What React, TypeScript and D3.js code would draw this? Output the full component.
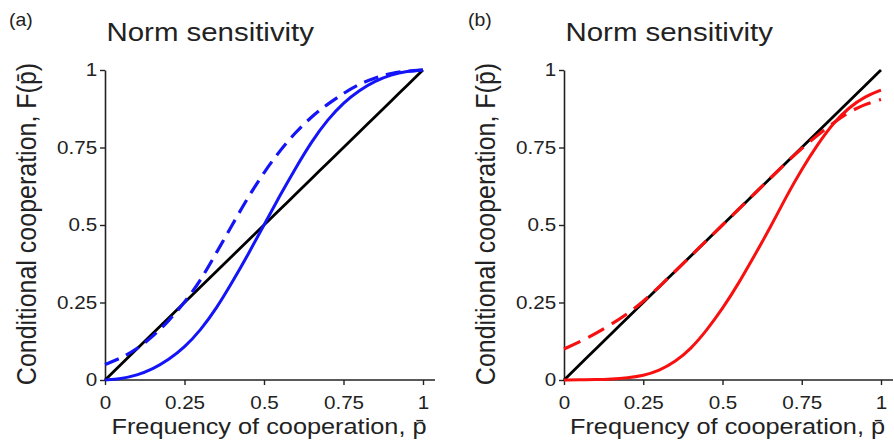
import React, { useRef, useEffect } from "react";
import * as d3 from "d3";

// x grid shared by all curves
const pGrid = [0, 0.05, 0.1, 0.15, 0.2, 0.25, 0.3, 0.35, 0.4, 0.45, 0.5, 0.55, 0.6, 0.65, 0.7, 0.75, 0.8, 0.85, 0.9, 0.95, 1];

// panel (a)
const blueSolid = [0, 0.004, 0.015, 0.035, 0.065, 0.105, 0.16, 0.23, 0.315, 0.405, 0.5, 0.595, 0.685, 0.77, 0.84, 0.895, 0.935, 0.965, 0.985, 0.996, 1];
const blueDashed = [0.05, 0.07, 0.1, 0.14, 0.19, 0.25, 0.32, 0.41, 0.5, 0.59, 0.67, 0.74, 0.8, 0.85, 0.89, 0.925, 0.955, 0.975, 0.99, 0.997, 1];

// panel (b)
const redSolid = [0, 0.0005, 0.001, 0.003, 0.007, 0.014, 0.03, 0.058, 0.1, 0.16, 0.23, 0.31, 0.4, 0.49, 0.59, 0.68, 0.76, 0.83, 0.88, 0.915, 0.935];
const redDashed = [0.1, 0.123, 0.15, 0.18, 0.213, 0.253, 0.3, 0.35, 0.4, 0.45, 0.5, 0.55, 0.6, 0.65, 0.7, 0.748, 0.79, 0.83, 0.865, 0.89, 0.905];

const tickVals = [0, 0.25, 0.5, 0.75, 1];
const tickLabels = ["0", "0.25", "0.5", "0.75", "1"];

const FONT = "'Liberation Sans', Arial, Helvetica, sans-serif";
const SX = 1.11; // the figure's lettering is a little wide

const panels = [
  { tag: "(a)", left: 105, right: 423, color: "#1414f8", solid: blueSolid, dashed: blueDashed, dash: "15,8" },
  { tag: "(b)", left: 564, right: 881, color: "#f81010", solid: redSolid, dashed: redDashed, dash: "18,9" },
];

const TOP = 70;
const BOTTOM = 380;

const App = () => {
  const chart = useRef<SVGSVGElement>(null);

  useEffect(() => {
    const svg = d3.select(chart.current);
    svg.selectAll("*").remove();

    panels.forEach((pn) => {
      const x = d3.scaleLinear().domain([0, 1]).range([pn.left, pn.right]);
      const y = d3.scaleLinear().domain([0, 1]).range([BOTTOM, TOP]);
      const g = svg.append("g");

      // panel tag and title
      g.append("text")
        .attr("transform", `translate(${pn.left - 96},26) scale(${SX},1)`)
        .attr("font-size", 17.5)
        .text(pn.tag);
      g.append("text")
        .attr("transform", `translate(${pn.left + 1.5},40.7) scale(${SX},1)`)
        .attr("font-size", 26.5)
        .text("Norm sensitivity");

      // axes
      const xAxis = g.append("g")
        .attr("transform", `translate(0,${BOTTOM})`)
        .call(d3.axisBottom(x).tickValues(tickVals).tickFormat((d, i) => tickLabels[i]).tickSize(5).tickSizeOuter(0).tickPadding(11));
      xAxis.select(".domain").remove();
      xAxis.append("line")
        .attr("x1", pn.left).attr("x2", pn.right + 12)
        .attr("stroke", "#222").attr("stroke-width", 1.6);

      const yAxis = g.append("g")
        .attr("transform", `translate(${pn.left},0)`)
        .call(d3.axisLeft(y).tickValues(tickVals).tickFormat((d, i) => tickLabels[i]).tickSize(5).tickSizeOuter(0).tickPadding(2));
      yAxis.select(".domain").attr("stroke", "#222").attr("stroke-width", 1.6);

      [xAxis, yAxis].forEach(a => {
        a.selectAll(".tick line").attr("stroke", "#222").attr("stroke-width", 1.4);
        a.selectAll(".tick text")
          .attr("font-size", 18.6)
          .attr("font-family", FONT)
          .attr("fill", "#222")
          .attr("transform", `scale(${SX},1)`);
      });

      // axis labels
      g.append("text")
        .attr("transform", `translate(${(pn.left + pn.right) / 2 + 5},434.3) scale(${SX},1)`)
        .attr("text-anchor", "middle")
        .attr("font-size", 22.8)
        .text("Frequency of cooperation, p\u0304");
      g.append("text")
        .attr("transform", `translate(${pn.left - 69},224) scale(${SX},1) rotate(-90)`)
        .attr("text-anchor", "middle")
        .attr("font-size", 25)
        .text("Conditional cooperation, F(p\u0304)");

      const line = d3.line<number>()
        .x((d, i) => x(pGrid[i]))
        .y(d => y(d))
        .curve(d3.curveBasis);

      // diagonal
      g.append("path")
        .attr("d", line(pGrid))
        .attr("fill", "none")
        .attr("stroke", "#000")
        .attr("stroke-width", 2.8);

      g.append("path")
        .attr("d", line(pn.solid))
        .attr("fill", "none")
        .attr("stroke", pn.color)
        .attr("stroke-width", 3);

      g.append("path")
        .attr("d", line(pn.dashed))
        .attr("fill", "none")
        .attr("stroke", pn.color)
        .attr("stroke-width", 3.2)
        .attr("stroke-dasharray", pn.dash);
    });
  });

  return (
    <div id="chartArea">
      <svg ref={chart} width={894} height={444}
        style={{ position: "absolute", left: 0, top: 0, display: "block", fontFamily: FONT, fill: "#222" }}></svg>
    </div>
  );
};

export default App;
